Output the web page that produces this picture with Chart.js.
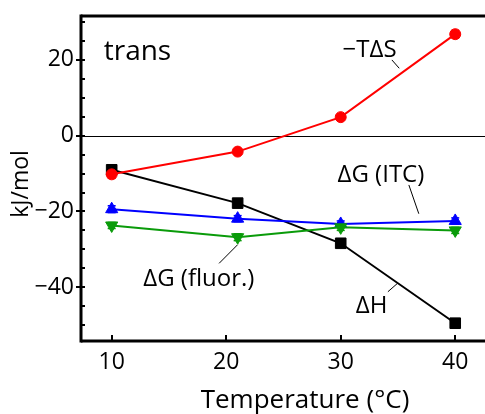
<!DOCTYPE html>
<html><head><meta charset="utf-8">
<script src="https://cdn.jsdelivr.net/npm/chart.js@4"></script>
<style>html,body{margin:0;padding:0;background:#fff}canvas{display:block}</style>
</head><body>
<canvas id="c" width="485" height="414"></canvas>
<script>
// ---- data ----
const temperatures = [10, 21, 30, 40];
const deltaH      = [-9.0, -17.8, -28.4, -49.5];
const minusTdS    = [-10.2, -4.2, 4.9, 26.8];
const deltaG_ITC  = [-19.4, -21.9, -23.3, -22.5];
const deltaG_fluor= [-23.7, -26.8, -24.2, -25.0];
const err_deltaH  = [0.5, 0.5, 0.5, 0.5];
const err_minusTdS= [1.0, 0.6, 0.6, 1.0];
const err_ITC     = [0.9, 0.8, 0.8, 0.8];
const err_fluor   = [0.8, 0.9, 0.8, 0.8];
const xTickValues = [10, 20, 30, 40];
const yTickValues = [-40, -20, 0, 20];
const seriesNames = ['−TΔS', 'ΔG (fluor.)', 'ΔG (ITC)', 'ΔH'];
const xTitle = 'Temperature (°C)';
const yTitle = 'kJ/mol';
const panelLabel = 'trans';

// ---- styling / layout ----
const FONT = '"Open Sans", "DejaVu Sans", sans-serif';
const X_MIN = 7.32, X_MAX = 42.6, Y_MIN = -54.2, Y_MAX = 31.6;
const annotations = [
  {text: panelLabel, x: 12.25, y: 20.0, size: 28},
  {text: seriesNames[0], x: 32.52, y: 20.9, size: 24, leader: [34.47, 20.0, 35.11, 17.8]},
  {text: seriesNames[2], x: 33.51, y: -12.1, size: 24, leader: [35.95, -13.0, 36.82, -20.6]},
  {text: seriesNames[1], x: 17.61, y: -39.6, size: 24, leader: [19.38, -33.7, 20.99, -28.8]},
  {text: seriesNames[3], x: 32.70, y: -46.9, size: 24, leader: [34.12, -41.2, 34.99, -38.9]},
];

const pts = arr => temperatures.map((t, i) => ({x: t, y: arr[i]}));

function line(ctx, x1, y1, x2, y2) { ctx.beginPath(); ctx.moveTo(x1, y1); ctx.lineTo(x2, y2); ctx.stroke(); }

const decor = {
  id: 'decor',
  beforeDatasetsDraw(chart) {
    const {ctx, chartArea: a, scales: {x, y}} = chart;
    ctx.save();
    ctx.strokeStyle = '#000'; ctx.lineWidth = 1;
    const y0 = Math.round(y.getPixelForValue(0)) + 0.5;
    line(ctx, a.left, y0, a.right, y0);
    // error bars
    chart.data.datasets.forEach((ds, di) => {
      const meta = chart.getDatasetMeta(di);
      ctx.strokeStyle = ds.borderColor; ctx.lineWidth = 1.5;
      ds.errors.forEach((e, i) => {
        const p = meta.data[i];
        const yt = y.getPixelForValue(ds.data[i].y + e), yb = y.getPixelForValue(ds.data[i].y - e);
        line(ctx, p.x, yt, p.x, yb);
        line(ctx, p.x - 4, yt, p.x + 4, yt);
        line(ctx, p.x - 4, yb, p.x + 4, yb);
      });
    });
    ctx.restore();
  },
  afterDatasetsDraw(chart) {
    const {ctx, chartArea: a, scales: {x, y}} = chart;
    ctx.save();
    ctx.strokeStyle = '#000'; ctx.fillStyle = '#000';
    // ticks
    ctx.lineWidth = 2;
    for (let v = -50; v <= 30; v += 5) {
      const py = Math.round(y.getPixelForValue(v));
      line(ctx, a.left, py, a.left + 4, py);
    }
    yTickValues.forEach(v => { const py = Math.round(y.getPixelForValue(v)); line(ctx, a.left - 5, py, a.left, py); });
    xTickValues.forEach(v => { const px = Math.round(x.getPixelForValue(v)); line(ctx, px, a.bottom, px, a.bottom - 6); });
    // frame
    ctx.lineWidth = 3;
    line(ctx, a.left, a.top - 1.5, a.left, a.bottom + 1.5);
    line(ctx, a.left, a.top, a.right, a.top);
    line(ctx, a.left, a.bottom, a.right, a.bottom);
    // annotations
    ctx.textAlign = 'center'; ctx.textBaseline = 'alphabetic';
    annotations.forEach(an => {
      ctx.font = an.size + 'px ' + FONT;
      ctx.fillText(an.text, x.getPixelForValue(an.x), y.getPixelForValue(an.y));
      if (an.leader) {
        ctx.lineWidth = 1;
        const [x1, y1, x2, y2] = an.leader;
        line(ctx, x.getPixelForValue(x1), y.getPixelForValue(y1), x.getPixelForValue(x2), y.getPixelForValue(y2));
      }
    });
    ctx.restore();
  },
  afterDraw(chart) {
    const {ctx} = chart;
    ctx.save();
    ctx.fillStyle = '#000';
    ctx.font = '26px ' + FONT;
    ctx.textAlign = 'center'; ctx.textBaseline = 'alphabetic';
    ctx.fillText(xTitle, 305, 408);
    ctx.font = '23px ' + FONT;
    ctx.translate(28, 184);
    ctx.rotate(-Math.PI / 2);
    ctx.fillText(yTitle, 0, 0);
    ctx.restore();
  }
};

const mk = (label, arr, errs, color, style, radius, rot) => ({
  label, data: pts(arr), errors: errs,
  borderColor: color, backgroundColor: color, borderWidth: 2,
  pointStyle: style, pointRadius: radius, pointRotation: rot || 0,
  pointBackgroundColor: color, pointBorderColor: color, pointBorderWidth: 1,
  tension: 0, fill: false
});

const noPad = s => { s.paddingLeft = 0; s.paddingRight = 0; s.paddingTop = 0; s.paddingBottom = 0; };

new Chart(document.getElementById('c'), {
  type: 'line',
  data: {
    datasets: [
      mk(seriesNames[0], minusTdS, err_minusTdS, '#ff0000', 'circle', 5.5),
      mk(seriesNames[1], deltaG_fluor, err_fluor, '#0a9b0a', 'triangle', 7, 180),
      mk(seriesNames[2], deltaG_ITC, err_ITC, '#0000ff', 'triangle', 7),
      mk(seriesNames[3], deltaH, err_deltaH, '#000000', 'rect', 7.5),
    ]
  },
  options: {
    responsive: false, animation: false, devicePixelRatio: 1,
    layout: {autoPadding: false, padding: {top: 16, right: 0, left: 0, bottom: 0}},
    plugins: {legend: {display: false}, tooltip: {enabled: false}},
    scales: {
      x: {
        type: 'linear', min: X_MIN, max: X_MAX,
        afterBuildTicks: s => { s.ticks = xTickValues.map(v => ({value: v})); },
        afterFit: s => { s.height = 73; noPad(s); },
        grid: {display: false, drawTicks: false}, border: {display: false},
        ticks: {padding: 8, color: '#000', font: {family: FONT, size: 23}, maxRotation: 0, autoSkip: false}
      },
      y: {
        type: 'linear', min: Y_MIN, max: Y_MAX,
        afterBuildTicks: s => { s.ticks = yTickValues.map(v => ({value: v})); },
        afterFit: s => { s.width = 81; noPad(s); },
        grid: {display: false, drawTicks: false}, border: {display: false},
        ticks: {padding: 7, color: '#000', font: {family: FONT, size: 23},
          callback: v => v < 0 ? '−' + Math.abs(v) : String(v)}
      }
    }
  },
  plugins: [decor]
});
</script>
</body></html>
